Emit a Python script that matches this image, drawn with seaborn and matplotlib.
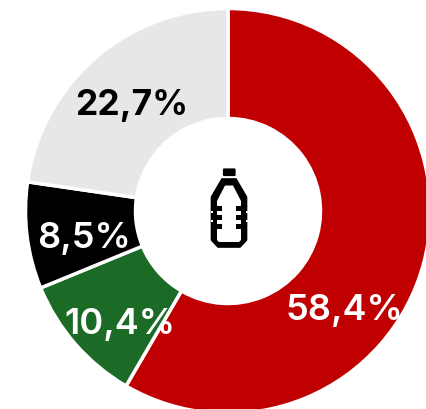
import matplotlib
matplotlib.use("Agg")
import matplotlib.pyplot as plt
from matplotlib.patches import FancyBboxPatch, PathPatch, Rectangle
from matplotlib.path import Path
import seaborn as sns

shares = [58.4, 10.4, 8.5, 22.7]
share_labels = ["58,4%", "10,4%", "8,5%", "22,7%"]
slice_colors = ["#c00000", "#1b6b26", "#000000", "#e7e7e7"]
label_colors = ["white", "white", "white", "black"]
label_weights = ["semibold", "semibold", "semibold", "bold"]
label_baseline_px = [(344, 320), (119.5, 334), (84, 248), (131.5, 115)]
label_sizes = [26, 26, 26, 25.5]

sns.set_theme(style="white")
plt.rcParams["font.family"] = ["Inter", "DejaVu Sans"]
sns.set_palette(slice_colors)

fig = plt.figure(figsize=(4.26, 4.10), dpi=100)
ax = fig.add_axes([0, 0, 1, 1])

ax.pie(
    shares,
    colors=sns.color_palette(),
    startangle=90,
    counterclock=False,
    center=(228, 410 - 212),
    radius=202.5,
    wedgeprops=dict(width=110, edgecolor="white", linewidth=2.5),
    frame=True,
)
ax.set_xlim(0, 426)
ax.set_ylim(0, 410)
ax.set_aspect("equal")
ax.axis("off")

for text, (px, py), color, weight, size in zip(
    share_labels, label_baseline_px, label_colors, label_weights, label_sizes
):
    ax.text(px, 410 - py, text, color=color, fontsize=size, fontweight=weight,
            ha="center", va="baseline", clip_on=False)

# Bottle pictogram in the hole of the ring, in a top-down pixel frame
icon = fig.add_axes([0, 0, 1, 1], facecolor="none")
icon.set_xlim(0, 426)
icon.set_ylim(410, 0)
icon.axis("off")

icon.add_patch(FancyBboxPatch((223.5, 170), 11.5, 6.5, boxstyle="round,pad=0.6,rounding_size=1.2",
                              fc="black", ec="none"))
outer = [(222, 180), (236, 180), (246.5, 198), (246.5, 241), (240, 248),
         (218, 248), (211.5, 241), (211.5, 198), (222, 180)]
icon.add_patch(PathPatch(Path(outer, closed=True), fc="black", ec="black", lw=1.2, joinstyle="round"))
inner = [(225, 186.5), (233, 186.5), (241, 202), (241, 241), (239, 243),
         (219, 243), (217, 241), (217, 202), (225, 186.5)]
icon.add_patch(PathPatch(Path(inner, closed=True), fc="white", ec="none"))
for rib_top in (206.5, 215.5, 224.5):
    icon.add_patch(Rectangle((212, rib_top), 10, 5.2, fc="black", ec="none"))
    icon.add_patch(Rectangle((236, rib_top), 10, 5.2, fc="black", ec="none"))
# Scalloped notches on the outer wall between the ribs
for notch_top in (212.3, 221.3):
    icon.add_patch(Rectangle((210.5, notch_top), 2.0, 2.0, fc="white", ec="none"))
    icon.add_patch(Rectangle((245.5, notch_top), 2.0, 2.0, fc="white", ec="none"))

fig.savefig("out.png", dpi=100, facecolor="white")
